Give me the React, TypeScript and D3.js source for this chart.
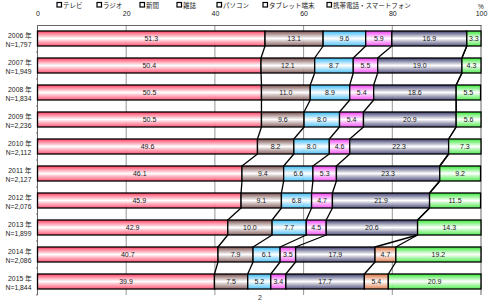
import { useEffect, useRef } from "react";
import * as d3 from "d3";

const years = ["2006 年", "2007 年", "2008 年", "2009 年", "2010 年", "2011 年", "2012 年", "2013 年", "2014 年", "2015 年"];
const sampleSizes = ["N=1,797", "N=1,949", "N=1,834", "N=2,236", "N=2,112", "N=2,127", "N=2,076", "N=1,899", "N=2,086", "N=1,844"];
const media = ["テレビ", "ラジオ", "新聞", "雑誌", "パソコン", "タブレット端末", "携帯電話・スマートフォン"];

const tv = [51.3, 50.4, 50.5, 50.5, 49.6, 46.1, 45.9, 42.9, 40.7, 39.9];
const radio = [13.1, 12.1, 11.0, 9.6, 8.2, 9.4, 9.1, 10.0, 7.9, 7.5];
const newspaper = [9.6, 8.7, 8.9, 8.0, 8.0, 6.6, 6.8, 7.7, 6.1, 5.2];
const magazine = [5.9, 5.5, 5.4, 5.4, 4.6, 5.3, 4.7, 4.5, 3.5, 3.4];
const pc = [16.9, 19.0, 18.6, 20.9, 22.3, 23.3, 21.9, 20.6, 17.9, 17.7];
const tablet = [0, 0, 0, 0, 0, 0, 0, 0, 4.7, 5.4];
const mobile = [3.3, 4.3, 5.5, 5.6, 7.3, 9.2, 11.5, 14.3, 19.2, 20.9];

const xTicks = [0, 20, 40, 60, 80, 100];

const colors = ["#ff3f62", "#7a4e4e", "#38b8f4", "#f03cf0", "#3c3c6e", "#d9703f", "#38e838"];
const legendX = [57, 97, 140, 177, 217, 263, 327];

const FONT = "'Liberation Sans', 'Noto Sans CJK JP', sans-serif";

export default function App() {
  const ref = useRef<SVGSVGElement | null>(null);

  useEffect(() => {
    const width = 500,
      height = 302;
    const svg = d3.select(ref.current);
    svg.selectAll("*").remove();
    svg.attr("width", width).attr("height", height);

    const series = [tv, radio, newspaper, magazine, pc, tablet, mobile];
    const rows = years.map((y, i) => {
      const r: any = { year: y };
      media.forEach((m, k) => (r[m] = series[k][i]));
      return r;
    });
    const stacked = d3.stack().keys(media)(rows);

    const x = d3.scaleLinear().domain([0, 100]).range([37.5, 481]).clamp(true);
    const y = d3.scaleBand().domain(years).range([25, 295]).paddingInner(12 / 27).paddingOuter(6 / 27);
    const bandStep = y.step();
    const barH = y.bandwidth();

    // gradients
    const defs = svg.append("defs");
    colors.forEach((c, k) => {
      const g = defs
        .append("linearGradient")
        .attr("id", "grad" + k)
        .attr("x1", 0)
        .attr("y1", 0)
        .attr("x2", 0)
        .attr("y2", 1);
      g.append("stop").attr("offset", "0%").attr("stop-color", c);
      g.append("stop").attr("offset", "50%").attr("stop-color", "#ffffff");
      g.append("stop").attr("offset", "100%").attr("stop-color", c).attr("stop-opacity", 0.85);
    });

    // legend
    const legend = svg.append("g").attr("font-family", FONT).attr("font-size", 6.5);
    media.forEach((m, k) => {
      legend
        .append("rect")
        .attr("x", legendX[k])
        .attr("y", 2.5)
        .attr("width", 4.5)
        .attr("height", 4.5)
        .attr("fill", "#fff")
        .attr("stroke", "#000")
        .attr("stroke-width", 1.2);
      legend
        .append("text")
        .attr("x", legendX[k] + 6)
        .attr("y", 7.5)
        .attr("fill", "#222")
        .text(m);
    });

    // grid lines
    const top = 25,
      bottom = 295;
    svg
      .append("g")
      .selectAll("line")
      .data(xTicks)
      .enter()
      .append("line")
      .attr("x1", (d) => x(d))
      .attr("x2", (d) => x(d))
      .attr("y1", top)
      .attr("y2", bottom)
      .attr("stroke", (d) => (d === 0 || d === 100 ? "#555" : "#8a8a8a"))
      .attr("stroke-width", 0.9);

    // top axis
    const axisTop = svg
      .append("g")
      .attr("transform", `translate(0,${top})`)
      .call(d3.axisTop(x).tickValues(xTicks).tickSize(0).tickPadding(9));
    axisTop.select(".domain").attr("stroke", "#555").attr("stroke-width", 0.9);
    axisTop.selectAll("text").attr("font-family", FONT).attr("font-size", 7).attr("fill", "#222");
    svg
      .append("text")
      .attr("x", x(100))
      .attr("y", 9)
      .attr("text-anchor", "middle")
      .attr("font-family", FONT)
      .attr("font-size", 6.5)
      .attr("fill", "#222")
      .text("%");

    // left ticks at band boundaries
    svg
      .append("g")
      .selectAll("line")
      .data(years.slice(1).concat(["end"]))
      .enter()
      .append("line")
      .attr("x1", x(0) - 1.5)
      .attr("x2", x(0))
      .attr("y1", (d, i) => top + (i + 1) * bandStep)
      .attr("y2", (d, i) => top + (i + 1) * bandStep)
      .attr("stroke", "#555")
      .attr("stroke-width", 0.8);

    // category labels
    const cat = svg.append("g").attr("font-family", FONT).attr("font-size", 6.8).attr("fill", "#222").attr("text-anchor", "middle");
    years.forEach((yr, i) => {
      const cy = (y(yr) as number) + barH / 2;
      cat.append("text").attr("x", 20).attr("y", cy - 0.5).text(yr);
      cat.append("text").attr("x", 18.5).attr("y", cy + 8.5).text(sampleSizes[i]);
    });

    // connector lines
    const conn = svg.append("g").attr("stroke", "#000").attr("stroke-width", 1.3).attr("fill", "none");
    stacked.slice(0, -1).forEach((s) => {
      for (let i = 0; i < years.length - 1; i++) {
        conn
          .append("line")
          .attr("x1", x(s[i][1]))
          .attr("y1", (y(years[i]) as number) + barH)
          .attr("x2", x(s[i + 1][1]))
          .attr("y2", y(years[i + 1]) as number);
      }
    });

    // bars
    const layers = svg
      .append("g")
      .selectAll("g")
      .data(stacked)
      .enter()
      .append("g")
      .attr("fill", (d, k) => `url(#grad${k})`);
    layers
      .selectAll("rect")
      .data((d) => d.filter((p) => p[1] - p[0] > 0))
      .enter()
      .append("rect")
      .attr("x", (p) => x(p[0]))
      .attr("y", (p: any) => y(p.data.year) as number)
      .attr("width", (p) => x(p[1]) - x(p[0]))
      .attr("height", barH)
      .attr("stroke", "#000")
      .attr("stroke-width", 1.3);

    // value labels
    layers
      .selectAll("text")
      .data((d) => d.filter((p) => p[1] - p[0] > 0).map((p) => ({ p, v: p[1] - p[0] })))
      .enter()
      .append("text")
      .attr("x", (d) => (x(d.p[0]) + x(d.p[1])) / 2)
      .attr("y", (d: any) => (y(d.p.data.year) as number) + barH / 2 + 2.5)
      .attr("text-anchor", "middle")
      .attr("font-family", FONT)
      .attr("font-size", 7)
      .attr("fill", "#222")
      .text((d) => d.v.toFixed(1));

    // page number
    svg
      .append("text")
      .attr("x", 260)
      .attr("y", 300)
      .attr("text-anchor", "middle")
      .attr("font-family", FONT)
      .attr("font-size", 7)
      .attr("fill", "#333")
      .text("2");
  }, []);

  return <svg ref={ref} style={{ position: "absolute", left: 0, top: 0, background: "#fff" }}></svg>;
}
